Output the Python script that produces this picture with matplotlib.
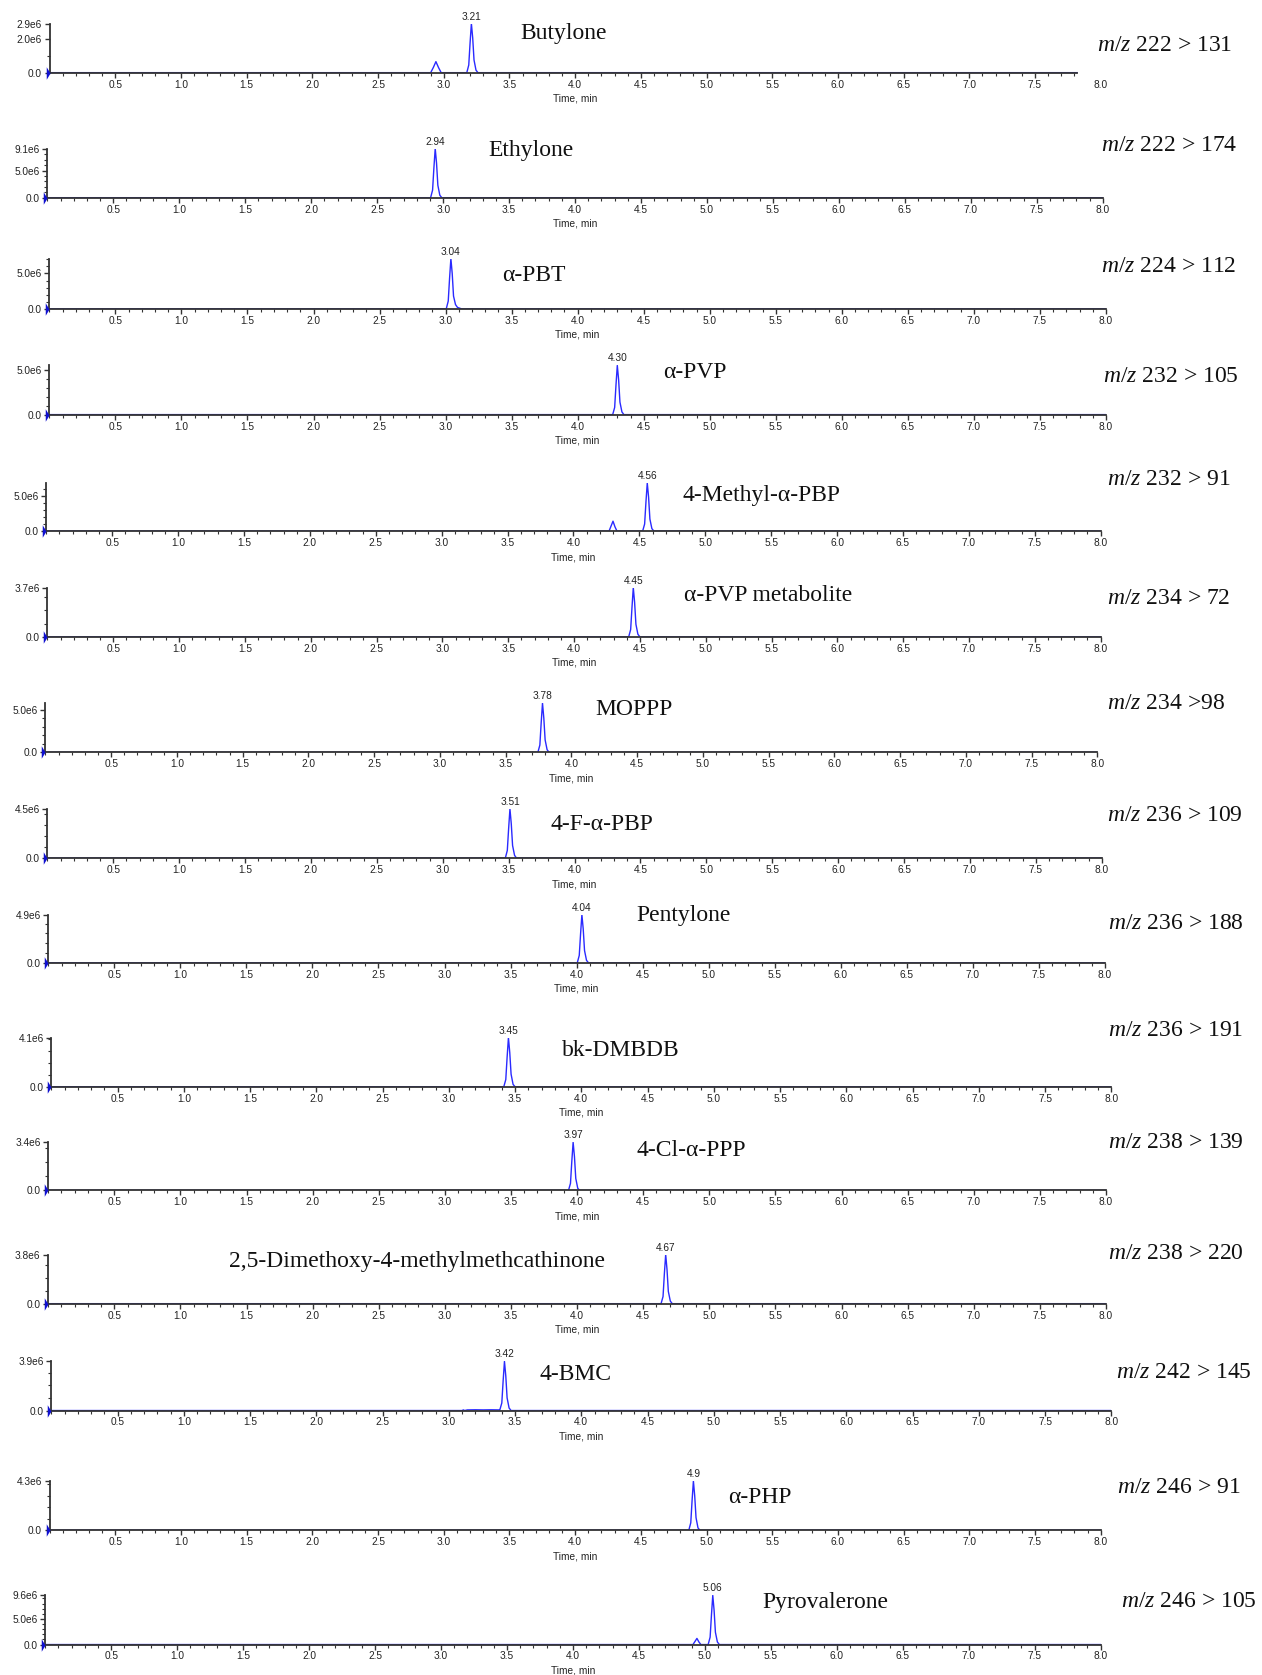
import matplotlib
matplotlib.use("Agg")
import matplotlib.pyplot as plt
from matplotlib.ticker import MultipleLocator, FixedLocator

plt.rcParams['mathtext.fontset'] = 'custom'
plt.rcParams['mathtext.it'] = 'Liberation Serif:italic'
plt.rcParams['mathtext.rm'] = 'Liberation Serif'

# ---------------- data ----------------
compounds = ["Butylone", "Ethylone", "α-PBT", "α-PVP", "4-Methyl-α-PBP",
             "α-PVP metabolite", "MOPPP", "4-F-α-PBP", "Pentylone", "bk-DMBDB",
             "4-Cl-α-PPP", "2,5-Dimethoxy-4-methylmethcathinone", "4-BMC",
             "α-PHP", "Pyrovalerone"]
transitions = ["222 > 131", "222 > 174", "224 > 112", "232 > 105", "232 > 91",
               "234 > 72", "234 >98", "236 > 109", "236 > 188", "236 > 191",
               "238 > 139", "238 > 220", "242 > 145", "246 > 91", "246 > 105"]
peak_rt_labels = ["3.21", "2.94", "3.04", "4.30", "4.56", "4.45", "3.78", "3.51",
                  "4.04", "3.45", "3.97", "4.67", "3.42", "4.9", "5.06"]
peak_rt = [3.21, 2.94, 3.04, 4.30, 4.56, 4.45, 3.78, 3.51, 4.04, 3.45, 3.97,
           4.67, 3.42, 4.90, 5.06]
# intensity axis maximum (x1e6 cps)
y_max = [2.9, 9.1, 7.1, 5.5, 6.8, 3.7, 5.75, 4.5, 4.9, 4.1, 3.4, 3.8, 3.9, 4.3, 9.6]
# y tick values (x1e6) and labels
y_ticks = [[0, 2.0, 2.9], [0, 5.0, 9.1], [0, 5.0], [0, 5.0], [0, 5.0], [0, 3.7],
           [0, 5.0], [0, 4.5], [0, 4.9], [0, 4.1], [0, 3.4], [0, 3.8], [0, 3.9],
           [0, 4.3], [0, 5.0, 9.6]]
y_tick_labels = [["0.0", "2.0e6", "2.9e6"], ["0.0", "5.0e6", "9.1e6"],
                 ["0.0", "5.0e6"], ["0.0", "5.0e6"], ["0.0", "5.0e6"],
                 ["0.0", "3.7e6"], ["0.0", "5.0e6"], ["0.0", "4.5e6"],
                 ["0.0", "4.9e6"], ["0.0", "4.1e6"], ["0.0", "3.4e6"],
                 ["0.0", "3.8e6"], ["0.0", "3.9e6"], ["0.0", "4.3e6"],
                 ["0.0", "5.0e6", "9.6e6"]]
x_ticks = [0.5, 1.0, 1.5, 2.0, 2.5, 3.0, 3.5, 4.0, 4.5, 5.0, 5.5, 6.0, 6.5, 7.0, 7.5, 8.0]

# chromatogram traces: time (min) and intensity (x1e6 cps)
trace_t = [
    [0.0, 2.90, 2.92, 2.94, 2.96, 2.98, 3.175, 3.19, 3.20, 3.21, 3.22, 3.23, 3.245, 3.26, 7.82],
    [0.0, 2.905, 2.92, 2.93, 2.94, 2.95, 2.96, 2.975, 2.99, 8.0],
    [0.0, 3.005, 3.02, 3.03, 3.04, 3.05, 3.06, 3.075, 3.09, 3.12, 8.0],
    [0.0, 4.265, 4.28, 4.29, 4.30, 4.31, 4.32, 4.335, 4.35, 8.0],
    [0.0, 4.27, 4.285, 4.30, 4.315, 4.33, 4.525, 4.54, 4.55, 4.56, 4.57, 4.58, 4.595, 4.61, 8.0],
    [0.0, 4.415, 4.43, 4.44, 4.45, 4.46, 4.47, 4.485, 4.50, 8.0],
    [0.0, 3.745, 3.76, 3.77, 3.78, 3.79, 3.80, 3.815, 3.83, 8.0],
    [0.0, 3.475, 3.49, 3.50, 3.51, 3.52, 3.53, 3.545, 3.56, 8.0],
    [0.0, 4.005, 4.02, 4.03, 4.04, 4.05, 4.06, 4.075, 4.09, 8.0],
    [0.0, 3.415, 3.43, 3.44, 3.45, 3.46, 3.47, 3.485, 3.50, 8.0],
    [0.0, 3.935, 3.95, 3.96, 3.97, 3.98, 3.99, 4.005, 4.02, 8.0],
    [0.0, 4.635, 4.65, 4.66, 4.67, 4.68, 4.69, 4.705, 4.72, 8.0],
    [0.0, 3.10, 3.11, 3.12, 3.14, 3.20, 3.26, 3.32, 3.38, 3.385, 3.40, 3.41, 3.42, 3.43, 3.44, 3.455, 3.47, 8.0],
    [0.0, 4.865, 4.88, 4.89, 4.90, 4.91, 4.92, 4.935, 4.95, 8.0],
    [0.0, 4.91, 4.925, 4.94, 4.955, 4.97, 5.025, 5.04, 5.05, 5.06, 5.07, 5.08, 5.095, 5.11, 8.0],
]
trace_i = [
    [0, 0, 0.30, 0.65, 0.30, 0, 0, 0.45, 1.75, 2.9, 2.05, 0.75, 0.15, 0, 0],
    [0, 0, 1.4, 5.5, 9.1, 6.4, 2.3, 0.45, 0, 0],
    [0, 0, 1.1, 4.3, 7.1, 5.0, 1.8, 0.6, 0.2, 0, 0],
    [0, 0, 0.8, 3.3, 5.5, 3.9, 1.4, 0.3, 0, 0],
    [0, 0, 0.7, 1.4, 0.6, 0, 0, 1.0, 4.1, 6.8, 4.8, 1.7, 0.35, 0, 0],
    [0, 0, 0.55, 2.2, 3.7, 2.6, 0.95, 0.2, 0, 0],
    [0, 0, 0.85, 3.45, 5.75, 4.0, 1.45, 0.3, 0, 0],
    [0, 0, 0.7, 2.7, 4.5, 3.15, 1.15, 0.25, 0, 0],
    [0, 0, 0.75, 2.95, 4.9, 3.45, 1.25, 0.25, 0, 0],
    [0, 0, 0.6, 2.45, 4.1, 2.85, 1.05, 0.2, 0, 0],
    [0, 0, 0.5, 2.05, 3.4, 2.4, 0.85, 0.15, 0, 0],
    [0, 0, 0.55, 2.3, 3.8, 2.65, 0.95, 0.2, 0, 0],
    [0, 0, 0.05, 0.0, 0.05, 0.06, 0.05, 0.06, 0.05, 0.05, 0.6, 2.35, 3.9, 2.75, 1.0, 0.2, 0, 0],
    [0, 0, 0.65, 2.6, 4.3, 3.0, 1.1, 0.2, 0, 0],
    [0, 0, 0.6, 1.2, 0.5, 0, 0, 1.45, 5.75, 9.6, 6.7, 2.4, 0.5, 0, 0],
]

# ---------------- layout (reference pixels, 1181x1568 scale) ----------------
W, H = 1262, 1675
S = 1262 / 1181
ax_x0 = [46.5, 44.3, 46.2, 46.2, 43.3, 44.4, 42.5, 44.3, 45.2, 48, 45.1, 45.1, 48, 46.5, 42.3]
ax_x8 = [1030, 1032, 1035, 1035, 1030, 1030, 1027, 1031, 1034, 1040, 1035, 1035, 1040, 1030, 1030]
ax_base = [68, 185, 289, 388, 497, 596, 704, 803, 901, 1017, 1114, 1220, 1320, 1432, 1539]
ax_top = [22, 139, 242, 342, 452, 550, 658, 757, 856, 971, 1069, 1174, 1274, 1386, 1493]
name_xy = [(527, 31), (497, 141), (500, 258), (650, 349), (713, 464), (719, 557),
           (593, 664), (563, 772), (640, 857), (581, 983), (647, 1077), (390, 1181),
           (539, 1286), (711, 1401), (772, 1500)]
mz_xy = [(1027, 43), (1030, 136), (1030, 249), (1032, 352), (1036, 449), (1036, 560),
         (1036, 658), (1036, 763), (1037, 864), (1037, 964), (1037, 1069), (1037, 1173),
         (1044, 1284), (1045, 1392), (1049, 1499)]

fig = plt.figure(figsize=(W / 100, H / 100), dpi=100)
blue = '#2a2aff'
spine_c = '#333333'
tick_font = dict(family='Liberation Sans', size=7.3, color='#222222')
tri_marker = [(-0.6, -1.0), (0.0, 0.0), (-0.6, 1.0), (-0.6, -1.0)]

for i in range(len(compounds)):
    left = ax_x0[i] * S / W
    width = (ax_x8[i] - ax_x0[i]) * S / W
    bottom = 1 - ax_base[i] * S / H
    height = (ax_base[i] - ax_top[i]) * S / H
    ax = fig.add_axes([left, bottom, width, height])
    ax.plot(trace_t[i], trace_i[i], color=blue, lw=1.0, zorder=2)
    ax.set_xlim(0, 8.0)
    ax.set_ylim(0, y_max[i])
    for s in ['top', 'right']:
        ax.spines[s].set_visible(False)
    for s in ['left', 'bottom']:
        ax.spines[s].set_color(spine_c)
        ax.spines[s].set_linewidth(1.3)
        ax.spines[s].set_zorder(3)
    if i == 0:
        ax.spines['bottom'].set_bounds(0, 7.82)
        ax.xaxis.set_major_locator(FixedLocator(x_ticks[:-1]))
        ax.xaxis.set_minor_locator(FixedLocator([k / 10 for k in range(1, 79)]))
        ax.annotate("8.0", xy=(8.0, 0), xycoords=('data', 'axes fraction'),
                    xytext=(0, -7), textcoords='offset pixels', ha='center', va='top',
                    fontfamily=tick_font['family'], fontsize=tick_font['size'],
                    color=tick_font['color'], annotation_clip=False)
    else:
        ax.xaxis.set_major_locator(FixedLocator(x_ticks))
        ax.xaxis.set_minor_locator(MultipleLocator(0.1))
    ax.set_yticks(y_ticks[i])
    ax.set_yticklabels(y_tick_labels[i])
    ax.yaxis.set_minor_locator(MultipleLocator(1.0))
    ax.tick_params(axis='both', which='major', length=3.5, width=1.0, color=spine_c,
                   labelsize=tick_font['size'], labelcolor=tick_font['color'])
    ax.tick_params(axis='x', which='major', pad=1.5)
    ax.tick_params(axis='y', which='major', pad=2.0)
    ax.tick_params(axis='both', which='minor', length=2, width=0.8, color=spine_c)
    for lab in ax.get_xticklabels() + ax.get_yticklabels():
        lab.set_fontfamily(tick_font['family'])
    ax.patch.set_alpha(0)
    # time axis title
    ax.annotate("Time, min", xy=(4.0, 0), xycoords=('data', 'axes fraction'),
                xytext=(0, -21), textcoords='offset pixels', ha='center', va='top',
                fontfamily='Liberation Sans', fontsize=7.3, color='#222222',
                annotation_clip=False)
    # retention time label
    ax.annotate(peak_rt_labels[i], xy=(peak_rt[i], y_max[i]), xytext=(0, 2),
                textcoords='offset pixels', ha='center', va='bottom',
                fontfamily='Liberation Sans', fontsize=7.3, color='#222222',
                annotation_clip=False)
    # blue origin marker
    ax.plot([0.0], [0.0], marker=tri_marker, color='#1010d0', markersize=9,
            markeredgewidth=0, clip_on=False, zorder=4, ls='none')

    nx, ny = name_xy[i]
    fig.text(nx * S / W, 1 - ny * S / H, compounds[i], ha='center', va='center',
             fontfamily='Liberation Serif', fontsize=17, color='#111111')
    mx, my = mz_xy[i]
    fig.text(mx * S / W, 1 - my * S / H, r"$m/z$ " + transitions[i], ha='left',
             va='center', fontfamily='Liberation Serif', fontsize=17, color='#111111')

fig.savefig("out.png", dpi=100)
